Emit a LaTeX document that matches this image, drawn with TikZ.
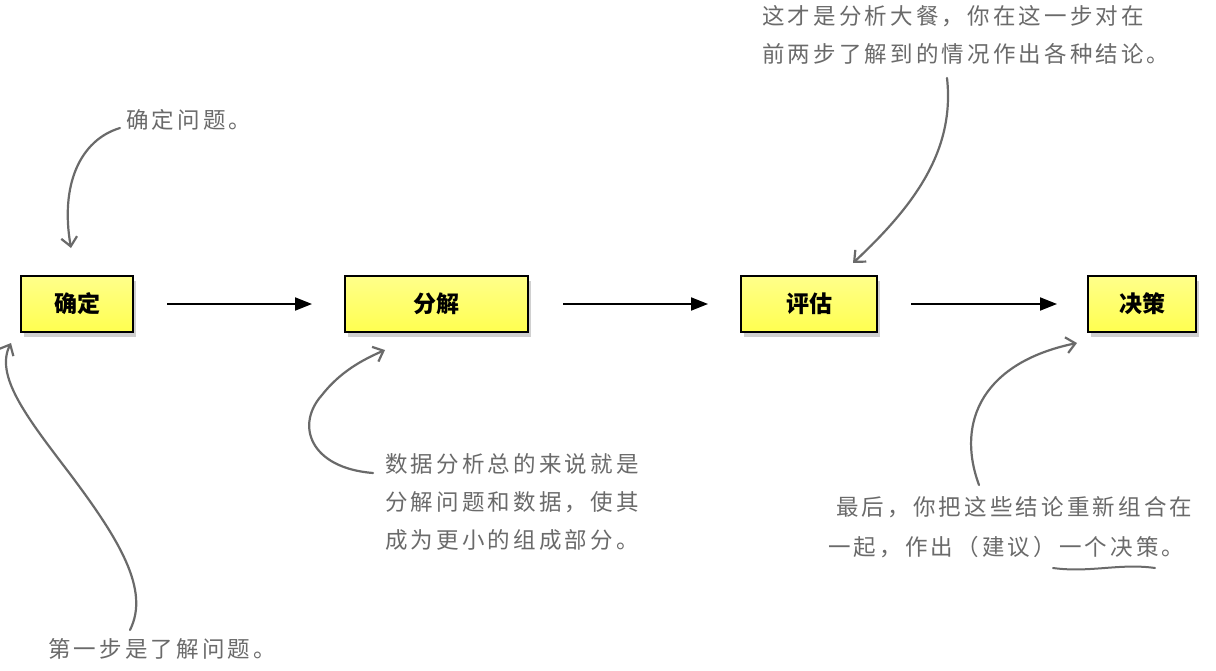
\documentclass[tikz,border=0pt]{standalone}
\usepackage{fontspec}
\newfontfamily\cjk{Noto Sans CJK SC}
\newfontfamily\cjkhand[LetterSpace=14]{Noto Sans CJK SC}
\usetikzlibrary{arrows.meta,shadows}
\definecolor{notegray}{HTML}{6A6A6A}
\definecolor{boxyellow}{HTML}{FFFF50}
\definecolor{boxtop}{HTML}{FFFF8A}
\tikzset{
  stepbox/.style={draw=black, line width=2pt, top color=boxtop, bottom color=boxyellow,
    minimum height=56pt, inner sep=0pt,
    font=\cjk\bfseries\fontsize{23}{26}\selectfont,
    drop shadow={shadow xshift=3pt, shadow yshift=-5pt, opacity=0.3, fill=black!60}},
  flow/.style={draw=black, line width=2pt, -{Triangle[length=17pt,width=13pt]}},
  note/.style={text=notegray, inner sep=0pt, align=left, anchor=north west,
    font=\cjkhand\fontsize{22.5}{38}\selectfont},
  pointer/.style={draw=notegray, line width=2.2pt, line cap=round,
    -{Straight Barb[length=9pt,width=16pt,line width=2.2pt]}}
}
\begin{document}
\begin{tikzpicture}[x=1pt,y=-1pt]
\useasboundingbox (0,0) rectangle (1216,670);
\fill[white] (0,0) rectangle (1216,670);

% boxes
\node[stepbox, minimum width=112pt] (b1) at (77,304) {确定};
\node[stepbox, minimum width=183pt] (b2) at (436.5,304) {分解};
\node[stepbox, minimum width=136pt] (b3) at (809,304) {评估};
\node[stepbox, minimum width=108pt] (b4) at (1142,304) {决策};

% flow arrows
\coordinate (f1s) at (167,304); \coordinate (f1e) at (312,304);
\coordinate (f2s) at (563,304); \coordinate (f2e) at (708,304);
\coordinate (f3s) at (911,304); \coordinate (f3e) at (1057,304);
\draw[flow] (f1s) -- (f1e);
\draw[flow] (f2s) -- (f2e);
\draw[flow] (f3s) -- (f3e);

% notes
\node[note] (n1) at (126,109) {确定问题。};
\node[note] (n2) at (48,638) {第一步是了解问题。};
\node[note] (n3) at (385,453) {数据分析总的来说就是\\分解问题和数据，使其\\成为更小的组成部分。};
\node[note] (n4) at (762,5) {这才是分析大餐，你在这一步对在\\前两步了解到的情况作出各种结论。};
\node[note] (n5) at (836,496) {最后，你把这些结论重新组合在};
\node[note] (n6) at (828,536) {一起，作出（建议）一个决策。};

% pointer arrows
\coordinate (p1s) at (120,128); \coordinate (p1e) at (71,248);
\draw[pointer] (p1s) .. controls (80,140) and (60,185) .. (p1e);

\coordinate (p2s) at (130,630); \coordinate (p2m) at (67,470); \coordinate (p2e) at (11,343);
\draw[pointer] (p2s) .. controls (150,590) and (120,540) .. (p2m) .. controls (25,415) and (-5,375) .. (p2e);

\coordinate (p3s) at (373,473); \coordinate (p3m) at (322,395); \coordinate (p3e) at (385,350);
\draw[pointer] (p3s) .. controls (310,468) and (295,425) .. (p3m) .. controls (340,372) and (362,360) .. (p3e);

\coordinate (p4s) at (947,78); \coordinate (p4e) at (853,263);
\draw[pointer] (p4s) .. controls (955,150) and (915,205) .. (p4e);

\coordinate (p5s) at (979,485); \coordinate (p5e) at (1077,343);
\draw[pointer] (p5s) .. controls (955,420) and (985,362) .. (p5e);

% underline
\coordinate (u1) at (1053,568); \coordinate (u2) at (1155,568);
\draw[notegray, line width=2pt, line cap=round] (u1) .. controls (1090,573) and (1120,563) .. (u2);
\end{tikzpicture}
\end{document}
